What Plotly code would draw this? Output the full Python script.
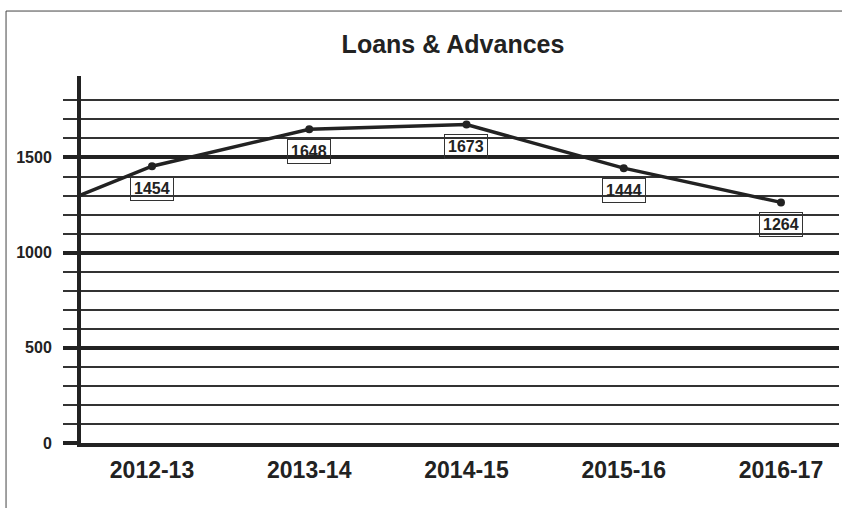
import plotly.graph_objects as go

# Data (2011-12 lies left of the visible range; only its connecting segment shows)
years = ["2011-12", "2012-13", "2013-14", "2014-15", "2015-16", "2016-17"]
loans = [1120, 1454, 1648, 1673, 1444, 1264]
labelled_years = years[1:]
labelled_values = loans[1:]

major_ticks = [0, 500, 1000, 1500]
major_text = ["0", "500", "1000", "1500"]
minor_ticks = [v for v in range(100, 1900, 100) if v % 500 != 0]

INK = "#222222"
FONT = "Liberation Sans, Arial, sans-serif"

fig = go.Figure()
fig.add_trace(go.Scatter(
    x=years, y=loans, mode="lines+markers",
    line=dict(color=INK, width=3.5),
    marker=dict(color=INK, size=8),
    hoverinfo="skip", showlegend=False,
))

for yr, v in zip(labelled_years, labelled_values):
    fig.add_annotation(
        x=yr, y=v, xref="x", yref="y", text=str(v), showarrow=False,
        yshift=-22, font=dict(family=FONT, size=16, color=INK, weight="bold"),
        bordercolor="#333333", borderwidth=1, borderpad=3,
        bgcolor="rgba(0,0,0,0)",
    )

# outer frame of the figure
fig.add_shape(type="rect", xref="paper", yref="paper",
              x0=-0.0989, x1=1.02, y0=-0.2, y1=1.177,
              line=dict(color="#444444", width=1), fillcolor="rgba(0,0,0,0)",
              layer="below")

fig.update_layout(
    width=842, height=508, autosize=False,
    margin=dict(l=81, r=3, t=76, b=65),
    paper_bgcolor="white", plot_bgcolor="white",
    title=dict(text="<b>Loans & Advances</b>", x=0.538, xref="container",
               y=1 - 44 / 508, yref="container", xanchor="center", yanchor="middle",
               font=dict(family=FONT, size=25, color=INK)),
    xaxis=dict(
        type="category", categoryorder="array", categoryarray=years,
        range=[0.5485, 5.369],
        showgrid=False, zeroline=False,
        showline=True, linewidth=4, linecolor=INK,
        ticks="", ticklabelstandoff=3,
        tickfont=dict(family=FONT, size=23, color=INK, weight="bold"),
    ),
    yaxis=dict(
        range=[0, 1928],
        tickmode="array", tickvals=major_ticks, ticktext=major_text,
        showgrid=True, gridcolor=INK, gridwidth=4,
        zeroline=False,
        showline=True, linewidth=4, linecolor=INK,
        ticks="outside", ticklen=14, tickwidth=4, tickcolor=INK,
        ticklabelstandoff=8,
        tickfont=dict(family=FONT, size=16, color=INK, weight="bold"),
        minor=dict(tickmode="array", tickvals=minor_ticks, showgrid=True,
                   gridcolor="#333333", gridwidth=2,
                   ticks="outside", ticklen=14, tickwidth=2, tickcolor="#333333"),
    ),
)

fig.write_html("out.html")
